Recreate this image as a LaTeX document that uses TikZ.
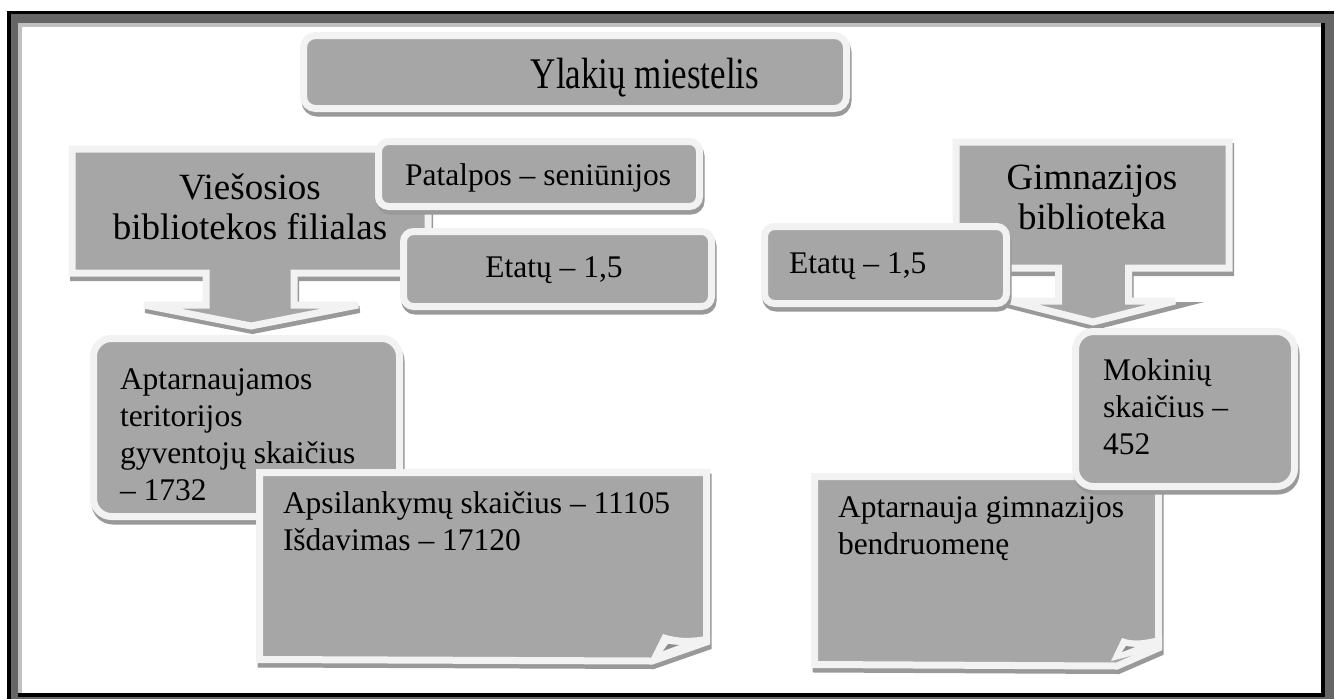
\documentclass[tikz,border=0pt]{standalone}
\usepackage{fontspec}
\setmainfont{Liberation Serif}
\definecolor{boxgray}{HTML}{A6A6A6}
\definecolor{rimgray}{HTML}{F2F2F2}
\definecolor{shgray}{HTML}{999999}
\definecolor{darkband}{HTML}{666666}
\definecolor{lightband}{HTML}{C0C0C0}
\definecolor{foldgray}{HTML}{8C8C8C}
\newcommand\bigtxt{\fontsize{37}{40.5}\selectfont}
\newcommand\midtxt{\fontsize{31.5}{37}\selectfont}
\newcommand\titletxt{\fontsize{35}{40}\selectfont}
\tikzset{
  shaded box/.style={fill=boxgray, draw=rimgray, line width=7pt, miter limit=4,
    preaction={draw=shgray, fill=shgray, line width=7pt,
      transform canvas={shift={(1.5pt,-4.5pt)}}}},
  rbox/.style={shaded box, rounded corners=#1, inner sep=0pt, outer sep=0pt, anchor=north west},
  txt/.style={inner sep=0pt, outer sep=0pt, text=black}
}
\begin{document}
\begin{tikzpicture}[x=1pt, y=-1pt]
\useasboundingbox (0,0) rectangle (1335,699);
\fill[white] (0,0) rectangle (1335,699);
% page border
\fill[black] (7,11) rectangle (1334,699);
\fill[darkband] (11,14) rectangle (1334,699);
\fill[black] (18,23) rectangle (1325,697);
\fill[lightband] (18,23) rectangle (1321,693);
\fill[white] (22,27) rectangle (1321,693);

% title
\node[rbox=12pt, minimum width=543pt, minimum height=73pt] (titlebox) at (303.5,35.5) {};
\node[txt, anchor=base, font=\titletxt] (title) at (645,88) {\scalebox{1}[1.25]{Ylakių miestelis}};

% left arrow shape
\draw[shaded box] (72,149) -- (428,149) -- (428,273) -- (294,273) -- (294,305) -- (358,305)
  -- (251,326) -- (144,305) -- (206,305) -- (206,273) -- (72,273) -- cycle;
\node[txt, anchor=north, align=center, font=\bigtxt] (vies) at (250,173.7) {Viešosios\\bibliotekos filialas};

\node[rbox=10pt, minimum width=321pt, minimum height=65pt] (patbox) at (378.5,141.5) {};
\node[txt, anchor=base, font=\midtxt] (pat) at (538,185) {Patalpos – seniūnijos};

\node[rbox=10pt, minimum width=308pt, minimum height=75pt] (etlbox) at (403.5,231.5) {};
\node[txt, anchor=base, font=\midtxt] (etl) at (554,277) {Etatų – 1,5};

% left lower boxes
\node[rbox=18pt, minimum width=306pt, minimum height=178pt] (aptbox) at (93.5,338.5) {};
\node[txt, anchor=north west, align=left, font=\midtxt] (apt) at (120,368.5) {Aptarnaujamos\\teritorijos\\gyventojų skaičius\\– 1732};

\draw[shaded box] (259.5,472.5) -- (706.5,472.5) -- (706.5,642) -- (652,661) -- (259.5,659.5) -- cycle;
\fill[rimgray] (650,660) -- (663,634) .. controls (678,639) and (692,639) .. (710,635) -- (710,643) -- cycle;
\fill[foldgray] (663,651) -- (668,644) -- (679,645) -- cycle;
\node[txt, anchor=north west, align=left, font=\midtxt] (aps) at (283,491.5) {Apsilankymų skaičius – 11105\\Išdavimas – 17120};

% right arrow shape
\draw[shaded box] (956,142) -- (1229,142) -- (1229,268) -- (1128.5,268) -- (1128.5,301) -- (1175,301)
  -- (1093,322) -- (1010,301) -- (1058.5,301) -- (1058.5,268) -- (956,268) -- cycle;
\node[txt, anchor=north, align=center, font=\bigtxt] (gimn) at (1092,164.7) {Gimnazijos\\biblioteka};

\node[rbox=10pt, minimum width=242pt, minimum height=77pt] (etrbox) at (764.5,226.5) {};
\node[txt, anchor=base west, font=\midtxt] (etr) at (789,273) {Etatų – 1,5};

% right lower boxes
\draw[shaded box] (814.5,476.5) -- (1158.5,476.5) -- (1158.5,648) -- (1117,666) -- (814.5,664.5) -- cycle;
\fill[rimgray] (1111,661) -- (1122,638) .. controls (1132,642) and (1145,641) .. (1162,636) -- (1162,648) -- cycle;
\fill[foldgray] (1122,652) -- (1126,646) -- (1135,647) -- cycle;
\node[txt, anchor=north west, align=left, font=\midtxt] (aptg) at (838,496.5) {Aptarnauja gimnazijos\\bendruomenę};

\node[rbox=18pt, minimum width=219pt, minimum height=155pt] (mokbox) at (1075.5,331.5) {};
\node[txt, anchor=north west, align=left, font=\midtxt] (mok) at (1103,358.5) {Mokinių\\skaičius –\\452};
\end{tikzpicture}
\end{document}
